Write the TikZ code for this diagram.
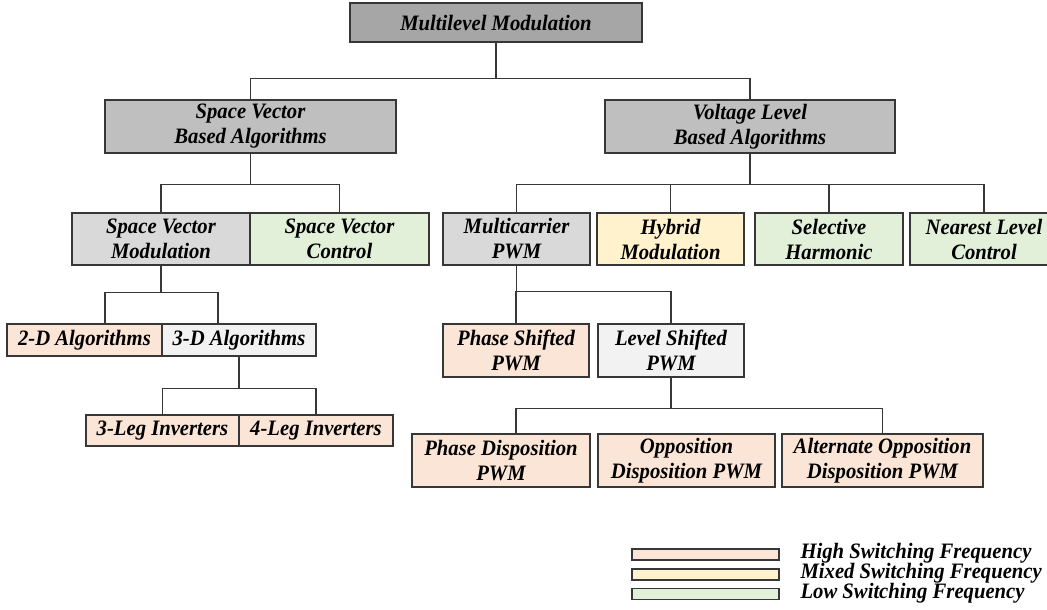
\documentclass[tikz,border=0pt]{standalone}
\usepackage{fontspec}
\setmainfont[FakeStretch=0.94]{Liberation Serif}
\usetikzlibrary{positioning}
\definecolor{darkgrey}{RGB}{166,166,166}
\definecolor{midgrey}{RGB}{191,191,191}
\definecolor{lightgrey}{RGB}{217,217,217}
\definecolor{palegrey}{RGB}{242,242,242}
\definecolor{softpeach}{RGB}{251,229,214}
\definecolor{softyellow}{RGB}{255,242,204}
\definecolor{softgreen}{RGB}{226,240,217}
\definecolor{edge}{RGB}{55,55,55}

\begin{document}
\begin{tikzpicture}[x=1pt,y=-1pt,
    every node/.style={font=\fontsize{22}{25}\selectfont\bfseries\itshape,align=center,text=black},
    box/.style={draw=edge,line width=1.3pt,rectangle,inner sep=0pt,minimum height=52pt},
    link/.style={draw=edge,line width=1.3pt},
    legbox/.style={draw=edge,line width=1.3pt,rectangle,inner sep=0pt,minimum width=147pt,minimum height=11pt}]
    \path[fill=white] (0,0) rectangle (1047,610);
    \useasboundingbox (0,0) rectangle (1047,610);
    % top levels
    \node[box,fill=darkgrey,minimum width=292pt,minimum height=39pt] (mm) at (496,22.5) {Multilevel Modulation};
    \node[box,fill=midgrey,minimum width=291pt,minimum height=53pt] (svba) at (250.5,126.5) {Space Vector\\Based Algorithms};
    \node[box,fill=midgrey,minimum width=290pt,minimum height=53pt] (vlba) at (750,126.5) {Voltage Level\\Based Algorithms};
    % second row
    \node[box,fill=lightgrey,minimum width=178pt] (svm) at (161,239) {Space Vector\\Modulation};
    \node[box,fill=softgreen,minimum width=179pt] (svc) at (339.5,239) {Space Vector\\Control};
    \node[box,fill=lightgrey,minimum width=147pt] (mc) at (516.5,239) {Multicarrier\\PWM};
    \node[box,fill=softyellow,minimum width=147pt] (hyb) at (670.5,239) {Hybrid\\Modulation};
    \node[box,fill=softgreen,minimum width=148pt] (sel) at (829,239) {Selective\\Harmonic};
    \node[box,fill=softgreen,minimum width=148pt] (nlc) at (984,239) {Nearest Level\\Control};
    % third row
    \node[box,fill=softpeach,minimum width=155pt,minimum height=32pt] (twod) at (84.5,340) {2-D Algorithms};
    \node[box,fill=palegrey,minimum width=154pt,minimum height=32pt] (threed) at (239,340) {3-D Algorithms};
    \node[box,fill=softpeach,minimum width=146pt,minimum height=53pt] (ps) at (516,350.5) {Phase Shifted\\PWM};
    \node[box,fill=palegrey,minimum width=146pt,minimum height=53pt] (ls) at (671,350.5) {Level Shifted\\PWM};
    % fourth row
    \node[box,fill=softpeach,minimum width=153pt,minimum height=31pt] (threeleg) at (162.5,430.5) {3-Leg Inverters};
    \node[box,fill=softpeach,minimum width=154pt,minimum height=31pt] (fourleg) at (316,430.5) {4-Leg Inverters};
    \node[box,fill=softpeach,minimum width=178pt,minimum height=53pt] (pd) at (501,460.5) {Phase Disposition\\PWM};
    \node[box,fill=softpeach,minimum width=177pt,minimum height=53pt] (od) at (686.5,460.5) {Opposition\\Disposition PWM};
    \node[box,fill=softpeach,minimum width=201pt,minimum height=53pt] (aod) at (882.5,460.5) {Alternate Opposition\\Disposition PWM};
    % tree links
    \foreach \p/\h/\c/\s in {mm/36/svba/0,mm/36/vlba/0,svba/31/svm/0,svba/31/svc/0,
        vlba/31/mc/0,vlba/31/hyb/0,vlba/31/sel/0,vlba/31/nlc/0,
        svm/27/twod/20.5,svm/27/threed/-21,
        threed/32/threeleg/0,threed/32/fourleg/0,mc/26/ps/0,mc/26/ls/0,
        ls/31/pd/15,ls/31/aod/0}{\draw[link] (\p.south) -- ++(0,\h) -| ([xshift=\s pt]\c.north);}
    % legend
    \node[legbox,fill=softpeach] (lghigh) at (705.5,554.5) {};
    \node[legbox,fill=softyellow] (lgmixed) at (705.5,574.5) {};
    \node[legbox,fill=softgreen] (lglow) at (705.5,594) {};
    \node[anchor=base west] (txhigh) at (797,558) {High Switching Frequency};
    \node[anchor=base west] (txmixed) at (797,578) {Mixed Switching Frequency};
    \node[anchor=base west] (txlow) at (797,598) {Low Switching Frequency};
  \end{tikzpicture}
\end{document}
